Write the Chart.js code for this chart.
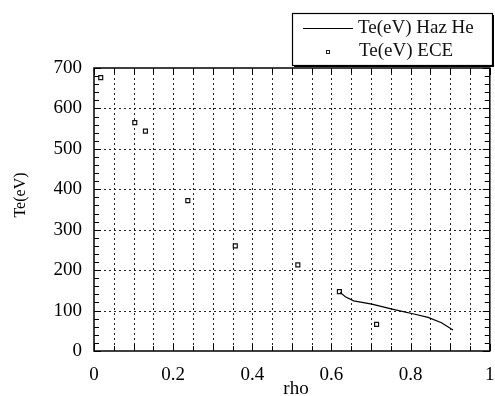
<!DOCTYPE html>
<html>
<head>
<meta charset="utf-8">
<script src="https://cdn.jsdelivr.net/npm/chart.js@4.4.1/dist/chart.umd.min.js"></script>
<style>
  html, body { margin: 0; padding: 0; background: #fff; }
  #wrap { width: 495px; height: 396px; }
</style>
</head>
<body>
<div id="wrap"><canvas id="c" width="495" height="396"></canvas></div>
<script>
// Electron temperature profiles versus normalised radius
const rhoEce = [0.017, 0.103, 0.130, 0.237, 0.357, 0.515, 0.620, 0.714];
const teEce  = [676, 565, 544, 372, 260, 213, 147, 66];
const rhoHaz = [0.622, 0.635, 0.656, 0.702, 0.756, 0.811, 0.844, 0.878, 0.907];
const teHaz  = [145, 134, 124, 116, 103, 91, 83, 70, 52];

const xLabelsShown = [0, 0.2, 0.4, 0.6, 0.8, 1];
const yTickValues = [0, 100, 200, 300, 400, 500, 600, 700];
const xTitle = 'rho';
const yTitle = 'Te(eV)';

const SERIF = '"Liberation Serif", "Times New Roman", serif';

function pairs(xs, ys) { return xs.map((x, i) => ({ x: x, y: ys[i] })); }

// Dotted grid: every 0.05 in rho, every 100 eV in Te
const dottedGrid = {
  id: 'dottedGrid',
  beforeDatasetsDraw(chart) {
    const { ctx, chartArea: a, scales } = chart;
    ctx.save();
    ctx.strokeStyle = '#222';
    ctx.lineWidth = 1;
    ctx.setLineDash([2, 3]);
    ctx.beginPath();
    for (let i = 1; i < 20; i++) {
      const px = Math.round(scales.x.getPixelForValue(i * 0.05)) + 0.5;
      ctx.moveTo(px, a.top); ctx.lineTo(px, a.bottom);
    }
    for (const v of yTickValues) {
      if (v === 0 || v === 700) continue;
      const py = Math.round(scales.y.getPixelForValue(v)) + 0.5;
      ctx.moveTo(a.left, py); ctx.lineTo(a.right, py);
    }
    ctx.stroke();
    ctx.restore();
  }
};

// Frame with inward tick marks on all four sides, plus the axis titles
const framePlugin = {
  id: 'frame',
  afterDatasetsDraw(chart) {
    const { ctx, chartArea: a, scales } = chart;
    const xs = scales.x, ys = scales.y;
    ctx.save();
    ctx.strokeStyle = '#000';
    ctx.lineWidth = 1;
    ctx.beginPath();
    for (let v = 0; v <= 700; v += 20) {
      const py = Math.round(ys.getPixelForValue(v)) + 0.5;
      const len = (v % 100 === 0) ? 7 : 5;
      ctx.moveTo(a.left, py); ctx.lineTo(a.left + len, py);
      ctx.moveTo(a.right, py); ctx.lineTo(a.right - len, py);
    }
    for (let i = 0; i <= 20; i++) {
      const px = Math.round(xs.getPixelForValue(i * 0.05)) + 0.5;
      const len = (i % 2 === 0) ? 7 : 5;
      ctx.moveTo(px, a.bottom); ctx.lineTo(px, a.bottom - len);
      ctx.moveTo(px, a.top); ctx.lineTo(px, a.top + len);
    }
    ctx.stroke();
    ctx.lineWidth = 1.5;
    ctx.strokeRect(a.left, a.top, a.right - a.left, a.bottom - a.top);

    ctx.fillStyle = '#000';
    ctx.textAlign = 'center';
    ctx.textBaseline = 'alphabetic';
    ctx.font = '19px ' + SERIF;
    ctx.fillText(xTitle, 296, 394);
    ctx.translate(25, 195);
    ctx.rotate(-Math.PI / 2);
    ctx.font = '16px ' + SERIF;
    ctx.fillText(yTitle, 0, 0);
    ctx.restore();
  }
};

// Boxed legend sitting above the upper right corner of the plot
const boxLegend = {
  id: 'boxLegend',
  afterDraw(chart) {
    const { ctx } = chart;
    const bx = 292, by = 13, bw = 200, bh = 52;
    ctx.save();
    ctx.fillStyle = '#000';
    ctx.fillRect(bx + 2, by + 2, bw, bh);
    ctx.fillStyle = '#fff';
    ctx.fillRect(bx, by, bw, bh);
    ctx.strokeStyle = '#000';
    ctx.lineWidth = 1.2;
    ctx.strokeRect(bx + 0.5, by + 0.5, bw, bh);

    const ds = chart.data.datasets;
    ctx.font = '19px ' + SERIF;
    ctx.textBaseline = 'middle';
    ctx.textAlign = 'left';
    ctx.fillStyle = '#111';
    ctx.strokeStyle = '#000';
    ctx.lineWidth = 1;
    ctx.beginPath();
    ctx.moveTo(303, 28.5); ctx.lineTo(353, 28.5);
    ctx.stroke();
    ctx.fillText(ds[0].label, 358, 28);
    ctx.strokeStyle = '#222';
    ctx.fillStyle = '#fff';
    ctx.fillRect(326, 50, 4, 4);
    ctx.strokeRect(326.5, 50.5, 3, 3);
    ctx.fillStyle = '#111';
    ctx.fillText(ds[1].label, 359, 51);
    ctx.restore();
  }
};

new Chart(document.getElementById('c'), {
  type: 'scatter',
  data: {
    datasets: [
      {
        label: 'Te(eV) Haz He',
        data: pairs(rhoHaz, teHaz),
        showLine: true,
        borderColor: '#000',
        borderWidth: 1.2,
        pointRadius: 0,
        tension: 0
      },
      {
        label: 'Te(eV) ECE',
        data: pairs(rhoEce, teEce),
        showLine: false,
        pointStyle: 'rect',
        pointRadius: 2.8,
        borderWidth: 1.2,
        borderColor: '#111',
        backgroundColor: '#fff'
      }
    ]
  },
  options: {
    responsive: false,
    animation: false,
    devicePixelRatio: 1,
    layout: { padding: { left: 0, right: 3, top: 68, bottom: 0 } },
    plugins: {
      legend: { display: false },
      tooltip: { enabled: false }
    },
    scales: {
      x: {
        type: 'linear',
        min: 0, max: 1,
        afterBuildTicks(scale) {
          scale.ticks = xLabelsShown.map(v => ({ value: v }));
        },
        afterFit(scale) {
          scale.height = 45;
          scale.paddingLeft = 0;
          scale.paddingRight = 0;
        },
        grid: { display: false, drawTicks: false },
        border: { display: false },
        ticks: {
          autoSkip: false,
          maxRotation: 0,
          padding: 13,
          color: '#000',
          font: { family: SERIF, size: 19 },
          callback(v) { return String(Math.round(v * 10) / 10); }
        }
      },
      y: {
        type: 'linear',
        min: 0, max: 700,
        afterBuildTicks(scale) {
          scale.ticks = yTickValues.map(v => ({ value: v }));
        },
        afterFit(scale) {
          scale.width = 94;
          scale.paddingTop = 0;
          scale.paddingBottom = 0;
        },
        grid: { display: false, drawTicks: false },
        border: { display: false },
        ticks: {
          padding: 12,
          color: '#000',
          font: { family: SERIF, size: 19 }
        }
      }
    }
  },
  plugins: [dottedGrid, framePlugin, boxLegend]
});
</script>
</body>
</html>
